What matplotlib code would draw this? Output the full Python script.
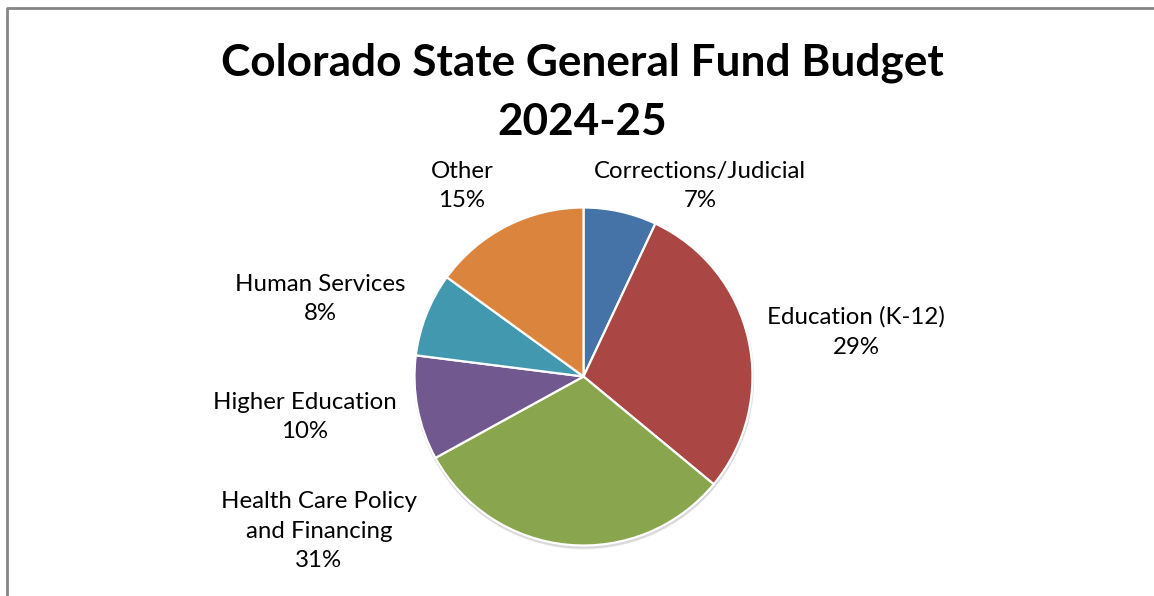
import matplotlib
matplotlib.use("Agg")
import matplotlib.pyplot as plt
from matplotlib.patches import Circle

# General Fund shares by department, clockwise from the top
categories = ["Corrections/Judicial", "Education (K-12)", "Health Care Policy\nand Financing",
              "Higher Education", "Human Services", "Other"]
shares = [7, 29, 31, 10, 8, 15]
colors = ["#4572A7", "#AA4643", "#89A54E", "#71588F", "#4198AF", "#DB843D"]

title_lines = ["Colorado State General Fund Budget", "2024-25"]

# label anchor points (pixels from top-left), one per slice
label_pos = [(700, 186), (856, 332), (319, 531), (305, 417), (320, 299), (462, 186)]

W, H = 1154, 596
fig = plt.figure(figsize=(W / 100, H / 100), dpi=100)
ax = fig.add_axes([0, 0, 1, 1])

cx, cy, r = 583.5, H - 376.5, 169

# soft drop shadow under the pie
for i in range(3):
    ax.add_patch(Circle((cx + 0.5, cy - 1.5 - i), r + 1.5 - i * 0.5, color="black",
                        alpha=0.05, lw=0, zorder=1))

ax.pie(shares, colors=colors, startangle=90, counterclock=False, center=(cx, cy),
       radius=r, frame=True,
       wedgeprops=dict(edgecolor="white", linewidth=1.6, zorder=2))
ax.set_xlim(0, W)
ax.set_ylim(0, H)
ax.set_aspect("equal")
ax.axis("off")

font = "Lato"
for name, val, (x, y) in zip(categories, shares, label_pos):
    ax.text(x, H - y, f"{name}\n{val}%", ha="center", va="center", fontsize=17.3,
            family=font, color="black", linespacing=1.5)

for line, base in zip(title_lines, [75.5, 135]):
    ax.text(582, H - base, line, ha="center", va="baseline", fontsize=31.8,
            fontweight="bold", family=font)

# chart area border (left and top edges)
ax.plot([6.5, 6.5, W], [0, H - 8, H - 8], color="#868686", lw=2, solid_capstyle="butt")

fig.savefig("out.png", dpi=100)
